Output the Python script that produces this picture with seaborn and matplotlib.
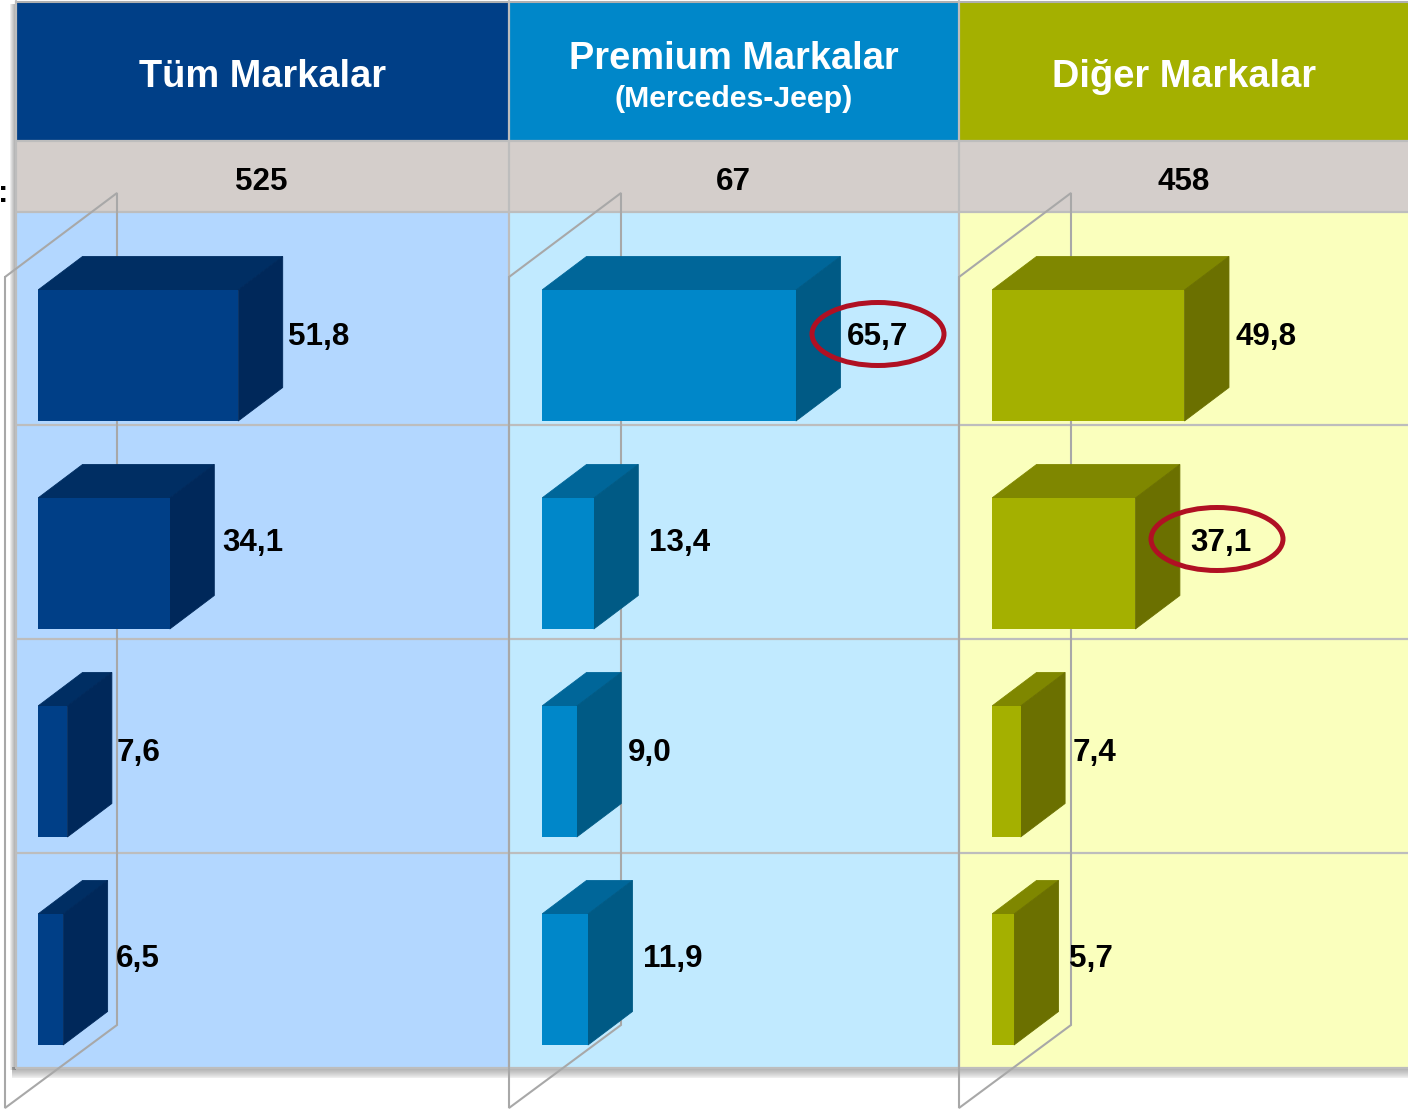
import matplotlib
matplotlib.use("Agg")
import matplotlib.pyplot as plt
from matplotlib.patches import Rectangle, Ellipse
import seaborn as sns
import pandas as pd

# ---- data ----
rows = ["Satır 1", "Satır 2", "Satır 3", "Satır 4"]
tum_values = [51.8, 34.1, 7.6, 6.5]
premium_values = [65.7, 13.4, 9.0, 11.9]
diger_values = [49.8, 37.1, 7.4, 5.7]
totals = ["525", "67", "458"]
titles = ["Tüm Markalar", "Premium Markalar", "Diğer Markalar"]
subtitle = "(Mercedes-Jeep)"

# ---- style ----
sns.set_theme(style="white")
plt.rcParams["font.family"] = ["Liberation Sans", "DejaVu Sans"]

W, H = 1408, 1109
PX_PER_UNIT = 3.865
DEPTH_X, DEPTH_Y = 44.5, 33.5
ROW_PX = 208.0

columns = [
    dict(vals=tum_values, left=16, right=508, base=38, wall=117, head="#003F87",
         body="#B3D7FF", front="#003F87", top="#002E63", side="#00285A",
         pads=[5, 8, 5, 8], total_x=261, title_x=263),
    dict(vals=premium_values, left=509, right=958, base=542, wall=621, head="#0087C9",
         body="#C1EAFF", front="#0087C9", top="#006699", side="#005A85",
         pads=[6, 11, 7, 11], total_x=733, title_x=734),
    dict(vals=diger_values, left=959, right=1408, base=992, wall=1071, head="#A4B000",
         body="#FAFFBD", front="#A4B000", top="#7F8700", side="#6B7000",
         pads=[7, 10, 8, 10], total_x=1184, title_x=1184),
]
# vertical distance (px) of each value label from the bar centre
label_dy = [-18, -21, -18, -21]
GRID = "#BDBDBD"
WALL = "#A8A8A8"
RED = "#B01023"

fig = plt.figure(figsize=(W / 100, H / 100), dpi=100, facecolor="white")


def pixel_axes(z):
    a = fig.add_axes([0, 0, 1, 1], zorder=z)
    a.set_xlim(0, W)
    a.set_ylim(H, 0)
    a.axis("off")
    a.patch.set_alpha(0)
    return a


bg = pixel_axes(0)
fg = pixel_axes(5)

# drop shadow of the table
for i in range(12):
    a = 0.055
    bg.add_patch(Rectangle((16 - 1 - i * 0.5, 4), 1 + i * 0.5, 1066, fc="#606060", ec="none", alpha=a))
    bg.add_patch(Rectangle((12, 1067), W, 1 + i * 0.95, fc="#606060", ec="none", alpha=a))

top_y, head_y, total_y, end_y = 2, 141, 212, 1067
for c in columns:
    bw = c["right"] - c["left"]
    bg.add_patch(Rectangle((c["left"], top_y), bw, head_y - top_y, fc=c["head"], ec="none"))
    bg.add_patch(Rectangle((c["left"], head_y), bw, total_y - head_y, fc="#D4CECB", ec="none"))
    bg.add_patch(Rectangle((c["left"], total_y), bw, end_y - total_y, fc=c["body"], ec="none"))

# grid of the table
bg.plot([16, W], [1.5, 1.5], color="#B0B0B0", lw=1.5)
for y in [141, 211.5, 425, 639, 853, 1067.5]:
    bg.plot([16, W], [y, y], color=GRID, lw=1.6)
for x in [16, 508.5, 958.5]:
    bg.plot([x, x], [1, 1068], color=GRID, lw=1.6)

# back wall outline of each 3D chart
for c in columns:
    wx = c["wall"]
    fx = wx - 112
    bg.plot([fx, wx, wx, fx, fx], [277, 193, 1025, 1108, 277], color=WALL, lw=1.5,
            solid_joinstyle="miter")

# bars
for c in columns:
    left = c["base"] / W
    right = c["right"] / W
    ax_top_px = 355.5 - 0.5 * ROW_PX
    ax_bot_px = ax_top_px + 4 * ROW_PX
    ax = fig.add_axes([left, 1 - ax_bot_px / H, right - left, 4 * ROW_PX / H], zorder=2)
    ax.patch.set_alpha(0)
    df = pd.DataFrame({"satir": rows, "deger": c["vals"]})
    sns.barplot(data=df, x="deger", y="satir", orient="h", color=c["front"], saturation=1,
                width=131 / ROW_PX, ax=ax, linewidth=0, zorder=3)
    ax.set_xlim(0, (c["right"] - c["base"]) / PX_PER_UNIT)
    ax.set_ylim(3.5, -0.5)
    ax.axis("off")
    ddx, ddy = DEPTH_X / PX_PER_UNIT, DEPTH_Y / ROW_PX
    for i, patch in enumerate(ax.patches):
        x1 = patch.get_width()
        y0 = patch.get_y()
        y1 = y0 + patch.get_height()
        ax.fill([0, x1, x1 + ddx, ddx], [y0, y0, y0 - ddy, y0 - ddy], color=c["top"], lw=0.6, zorder=2)
        ax.fill([x1, x1 + ddx, x1 + ddx, x1], [y0, y0 - ddy, y1 - ddy, y1], color=c["side"], lw=0.6, zorder=2)
        ax.annotate(f"{c['vals'][i]:.1f}".replace(".", ","),
                    xy=(x1 + ddx, i), xytext=(c["pads"][i] * 0.72, -label_dy[i] * 0.72),
                    textcoords="offset points", ha="left", va="center", fontsize=22.6,
                    fontweight="bold", color="black", zorder=6, annotation_clip=False)

# highlight rings
fg.add_patch(Ellipse((878, 334), 132, 63, fc="none", ec=RED, lw=3.6))
fg.add_patch(Ellipse((1217, 539), 132, 63, fc="none", ec=RED, lw=3.6))

# header text
for c, title, total in zip(columns, titles, totals):
    y = 59 if title.startswith("Premium") else 77
    fg.text(c["title_x"], y, title, color="white", fontsize=27.4, fontweight="bold",
            ha="center", va="center")
    fg.text(c["total_x"], 182, total, color="black", fontsize=22.6, fontweight="bold",
            ha="center", va="center")
fg.text(734, 99, subtitle, color="white", fontsize=21.8, fontweight="bold", ha="center", va="center")
fg.text(3, 194, ":", color="black", fontsize=22.6, fontweight="bold", ha="center", va="center")

fig.savefig("out.png", dpi=100)
